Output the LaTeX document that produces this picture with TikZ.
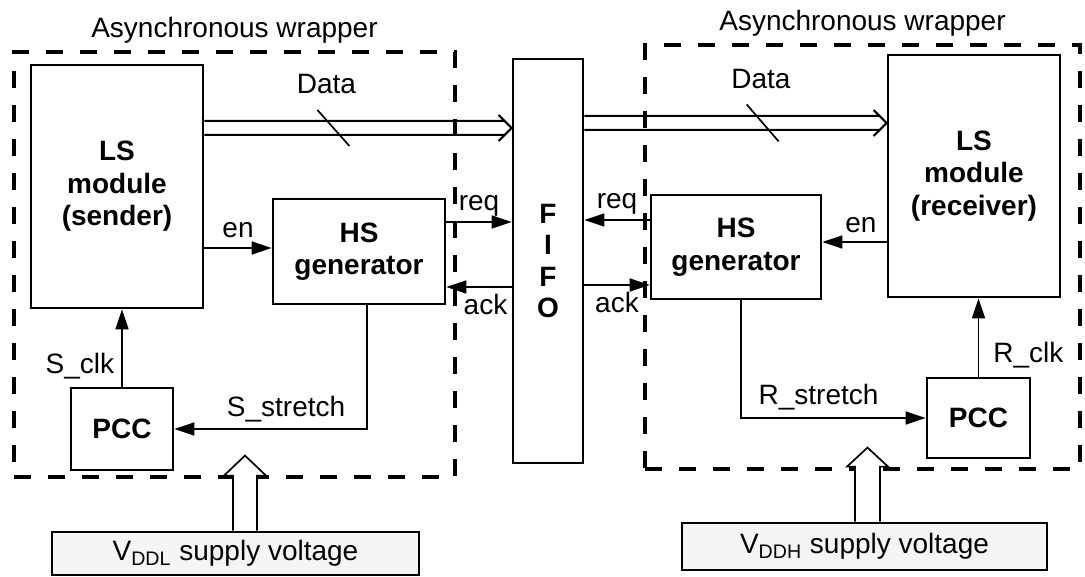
\documentclass[tikz,border=0pt]{standalone}
\usepackage{fontspec}
\setmainfont{Liberation Sans}
\usetikzlibrary{arrows.meta,positioning,calc}

\begin{document}
\begin{tikzpicture}[
  x=0.5pt, y=-0.5pt,
  font=\fontsize{14}{16.2}\selectfont,
  >={Triangle[length=10pt,width=6.5pt]},
  box/.style={draw, line width=1.4pt, fill=white, align=center, inner sep=0pt, font=\fontsize{14}{16.2}\selectfont\bfseries},
  vbox/.style={draw, line width=1.4pt, fill=black!4, inner sep=0pt},
  wrap/.style={draw, line width=1.6pt, dash pattern=on 8.5pt off 8.5pt, inner sep=0pt},
  sig/.style={->, line width=0.85pt},
  busline/.style={line width=1pt, line join=miter},
  lab/.style={inner sep=0pt},
  supply/.style={draw, line width=0.85pt, fill=white},
]
\useasboundingbox (0,0) rectangle (1085,577);

% === sender side ===
\node[box, minimum width=86pt, minimum height=121.5pt] (sender) at (117,186.5) {LS\\module\\(sender)};
\node[box, minimum width=86pt, minimum height=52.5pt] (hsl) at (359,251.5) {HS\\generator};
\node[box, minimum width=51pt, minimum height=41pt] (pccl) at (122,429) {PCC};

% === FIFO ===
\node[box, minimum width=35pt, minimum height=202pt, font=\fontsize{14}{15.75}\selectfont\bfseries] (fifo) at (548,261) {F\\I\\F\\O};

% === receiver side ===
\node[box, minimum width=86pt, minimum height=121pt] (receiver) at (974,176) {LS\\module\\(receiver)};
\node[box, minimum width=85pt, minimum height=52pt] (hsr) at (736,247) {HS\\generator};
\node[box, minimum width=51.5pt, minimum height=40pt] (pccr) at (978.5,418) {PCC};

% === supplies ===
\node[vbox, minimum width=183.5pt, minimum height=21.5pt] (vddl) at (235.5,553.5) {V\textsubscript{DDL} supply voltage};
\node[vbox, minimum width=182.5pt, minimum height=23.5pt] (vddr) at (864.5,546.5) {V\textsubscript{DDH} supply voltage};

% === data buses ===
\coordinate (bsl) at ($(sender.east)+(0,-58.5)$);
\coordinate (bel) at (bsl -| fifo.west);
\draw[busline] ($(bsl)+(0,-7)$) -- ($(bel)+(-7,-7)$) ($(bsl)+(0,7)$) -- ($(bel)+(-7,7)$)
  ($(bel)+(-13,-13)$) -- (bel) -- ($(bel)+(-13,13)$);
\path (bsl) -- node[lab, pos=0.397, above=16.7pt] (datal) {Data} coordinate[pos=0.42] (cutl) (bel);
\draw[line width=0.85pt] ($(cutl)+(-16,-18)$) -- ($(cutl)+(16,18)$);

\coordinate (ber) at ($(receiver.west)+(0,-53)$);
\coordinate (bsr) at (ber -| fifo.east);
\draw[busline] ($(bsr)+(0,-7)$) -- ($(ber)+(-7,-7)$) ($(bsr)+(0,7)$) -- ($(ber)+(-7,7)$)
  ($(ber)+(-13,-13)$) -- (ber) -- ($(ber)+(-13,13)$);
\path (bsr) -- node[lab, pos=0.584, above=16.7pt] (datar) {Data} coordinate[pos=0.59] (cutr) (ber);
\draw[line width=0.85pt] ($(cutr)+(-16,-18.5)$) -- ($(cutr)+(16,18.5)$);

% === handshake, sender side ===
\coordinate (enl) at ($(hsl.west)+(0,-3.5)$);
\coordinate (rql) at ($(hsl.east)+(0,-29.5)$);
\coordinate (akl) at ($(hsl.east)+(0,35.5)$);
\draw[sig] (enl -| sender.east) -- node[lab, above=4.5pt] (enlab) {en} (enl);
\draw[sig] (rql) -- node[lab, above=2.5pt] (rqlab) {req} (rql -| fifo.west);
\draw[sig] (akl -| fifo.west) -- node[lab, pos=0.4, below=3pt] (aklab) {ack} (akl);
\draw[sig] (pccl.north) -- node[lab, pos=0.26, left=3.5pt] (sclk) {S\_clk} (pccl.north |- sender.south);
\draw[sig] ($(hsl.south)+(8,0)$) |- node[lab, pos=0.71, above=3pt] (sstr) {S\_stretch} (pccl.east);

% === handshake, receiver side ===
\coordinate (enr) at ($(hsr.east)+(0,-5)$);
\coordinate (rqr) at ($(hsr.west)+(0,-27)$);
\coordinate (akr) at ($(hsr.west)+(0,38)$);
\draw[sig] (enr -| receiver.west) -- node[lab, pos=0.4, above=4pt] (enrab) {en} (enr);
\draw[sig] (rqr) -- node[lab, above=2.5pt] (rqrab) {req} (rqr -| fifo.east);
\draw[sig] (akr -| fifo.east) -- node[lab, below=3pt] (akrab) {ack} (akr);
\draw[sig] (pccr.north) -- node[lab, pos=0.28, right=7pt] (rclk) {R\_clk} (pccr.north |- receiver.south);
\draw[sig] ($(hsr.south)+(5,0)$) |- node[lab, pos=0.71, above=3.4pt] (rstr) {R\_stretch} (pccr.west);

% === wrappers ===
\node[wrap, minimum width=220.5pt, minimum height=212.5pt,
  label={[inner sep=0pt, label distance=3.3pt]above:Asynchronous wrapper}] (wrapl) at (234.5,264.5) {};
\node[wrap, minimum width=217.5pt, minimum height=212pt,
  label={[inner sep=0pt, label distance=3.3pt]above:Asynchronous wrapper}] (wrapr) at (862.5,257) {};

% === supply arrows ===
\draw[supply] ($(vddl.north)+(-2.5,0)$) -- ++(0,-55) -- ++(-9,0) -- ++(21,-20) -- ++(21,20) -- ++(-9,0) -- ++(0,55);
\draw[supply] ($(vddr.north)+(-9.5,0)$) -- ++(0,-55) -- ++(-8,0) -- ++(20.5,-19) -- ++(20.5,19) -- ++(-8,0) -- ++(0,55);

\end{tikzpicture}
\end{document}
